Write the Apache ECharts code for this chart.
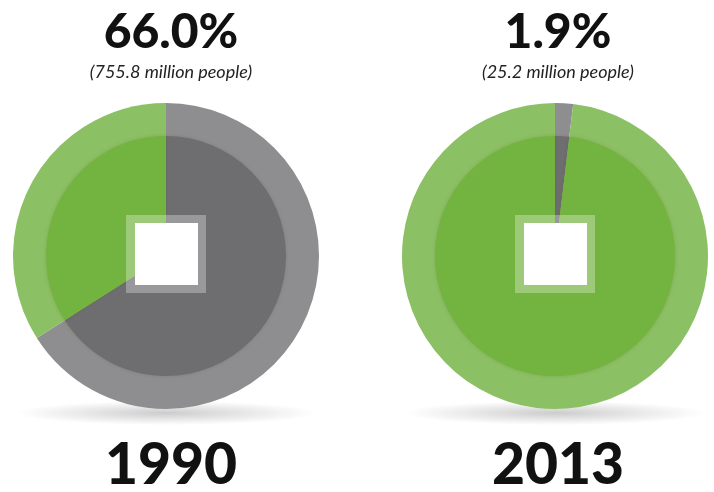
<!DOCTYPE html>
<html>
<head>
<meta charset="utf-8">
<script src="https://cdn.jsdelivr.net/npm/echarts@6/dist/echarts.min.js"></script>
<style>
  html, body { margin: 0; padding: 0; background: #fff; }
  #chart { width: 714px; height: 492px; }
</style>
</head>
<body>
<div id="chart"></div>
<script>
// 数据
const years = ['1990', '2013']
const povertyShare = [66.0, 1.9]          // 百分比
const povertyPeople = [755.8, 25.2]       // 百万人

// 布局
const centersX = [166, 555]
const textX = [166, 553]
const centerY = 256
const outerR = 153
const innerR = 120

// 颜色
const grayOuter = '#8e8e91'
const grayInner = '#6e6e71'
const greenOuter = '#8cc064'
const greenInner = '#73b33f'

const dom = document.querySelector('#chart')
const myChart = echarts.init(dom)

function pieData(i, gray, green) {
  return [
    { value: povertyShare[i], name: 'poverty', itemStyle: { color: gray } },
    { value: 100 - povertyShare[i], name: 'rest', itemStyle: { color: green } }
  ]
}

const series = []
const titles = []
const graphics = []

years.forEach((year, i) => {
  const cx = centersX[i]
  const tx = textX[i]
  // 外圈
  series.push({
    type: 'pie',
    center: [cx, centerY],
    radius: [0, outerR],
    startAngle: 90,
    clockwise: true,
    silent: true,
    label: { show: false },
    labelLine: { show: false },
    z: 2,
    data: pieData(i, grayOuter, greenOuter)
  })
  // 内圈
  series.push({
    type: 'pie',
    center: [cx, centerY],
    radius: [0, innerR],
    startAngle: 90,
    clockwise: true,
    silent: true,
    label: { show: false },
    labelLine: { show: false },
    z: 3,
    itemStyle: { shadowBlur: 4, shadowColor: 'rgba(60,60,0,0.18)' },
    data: pieData(i, grayInner, greenInner)
  })

  titles.push({
    text: povertyShare[i].toFixed(1) + '%',
    left: tx,
    top: 4,
    textAlign: 'center',
    textStyle: { fontFamily: 'Lato', fontWeight: 900, fontSize: 48, color: '#111' }
  })
  titles.push({
    text: '(' + povertyPeople[i] + ' million people)',
    left: tx,
    top: 58,
    textAlign: 'center',
    textStyle: { fontFamily: 'Lato', fontStyle: 'italic', fontWeight: 'normal', fontSize: 18, color: '#222' }
  })
  titles.push({
    text: year,
    left: tx,
    top: 432,
    textAlign: 'center',
    textStyle: { fontFamily: 'Lato', fontWeight: 900, fontSize: 57, color: '#111' }
  })

  // 阴影
  graphics.push({
    type: 'circle',
    shape: { cx: 0, cy: 0, r: 150 },
    x: cx,
    y: centerY + outerR + 4,
    scaleY: 0.08,
    z: 0,
    style: {
      fill: new echarts.graphic.RadialGradient(0.5, 0.5, 0.5, [
        { offset: 0, color: 'rgba(0,0,0,0.2)' },
        { offset: 0.6, color: 'rgba(0,0,0,0.08)' },
        { offset: 1, color: 'rgba(0,0,0,0)' }
      ])
    }
  })
  // 方孔
  graphics.push({
    type: 'rect',
    shape: { x: cx - 40, y: centerY - 41, width: 80, height: 78 },
    z: 100,
    style: { fill: 'rgba(255,255,255,0.3)' }
  })
  graphics.push({
    type: 'rect',
    shape: { x: cx - 31, y: centerY - 33, width: 63, height: 62 },
    z: 101,
    style: { fill: '#fff' }
  })
})

const option = {
  animation: false,
  title: titles,
  series: series,
  graphic: graphics
}

myChart.setOption(option)
</script>
</body>
</html>
